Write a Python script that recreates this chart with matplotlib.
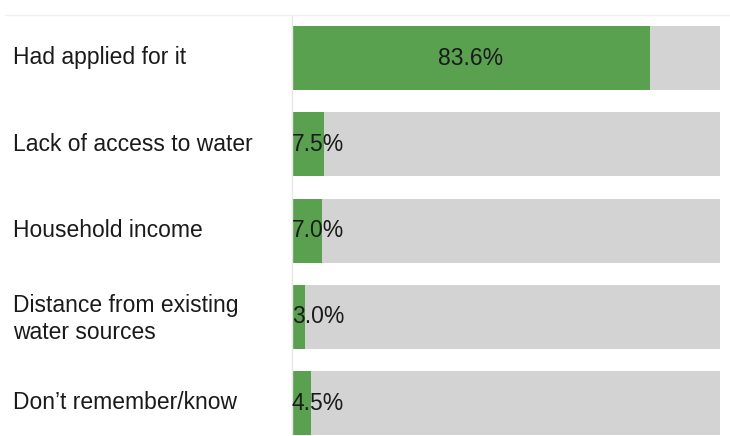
import matplotlib.pyplot as plt
from matplotlib.lines import Line2D
from matplotlib.transforms import ScaledTranslation

plt.rcParams["font.family"] = ["Liberation Sans", "DejaVu Sans"]

reasons = ["Had applied for it", "Lack of access to water", "Household income",
           "Distance from existing\nwater sources", "Don\u2019t remember/know"]
shares = [83.6, 7.5, 7.0, 3.0, 4.5]
full = [100, 100, 100, 100, 100]

green = "#59a14f"
grey = "#d3d3d3"

fig = plt.figure(figsize=(7.30, 4.36), dpi=100)
ax = fig.add_axes([292 / 730, 0, 428 / 730, 421 / 436])

ypos = list(range(len(reasons)))
ax.barh(ypos, full, height=0.742, color=grey)
ax.barh(ypos, shares, height=0.742, color=green)

for y, v in zip(ypos, shares):
    if v > 20:
        ax.text(v / 2, y, f"{v:.1f}%", ha="center", va="center", fontsize=16.5, color="#1a1a1a")
    else:
        ax.text(0, y, f"{v:.1f}%", ha="left", va="center", fontsize=16.5, color="#1a1a1a")

ax.set_xlim(0, 100)
ax.set_ylim(4.38, -0.5)
ax.set_yticks(ypos)
ax.set_yticklabels(reasons, fontsize=16.5, color="#1a1a1a", ha="left", linespacing=1.25)
ax.tick_params(axis="y", length=0, pad=201)
shift = ScaledTranslation(0, 2 / 72, fig.dpi_scale_trans)
for lbl in ax.get_yticklabels():
    lbl.set_transform(lbl.get_transform() + shift)
ax.set_xticks([])
for s in ["top", "right", "bottom"]:
    ax.spines[s].set_visible(False)
ax.spines["left"].set_color("#e6e6e6")
ax.spines["left"].set_linewidth(1)

# faint rule under the (cropped) title
fig.add_artist(Line2D([5 / 730, 1], [1 - 15 / 436, 1 - 15 / 436],
                      transform=fig.transFigure, color="#f0f0f0", lw=1))

fig.savefig("out.png", dpi=100)
